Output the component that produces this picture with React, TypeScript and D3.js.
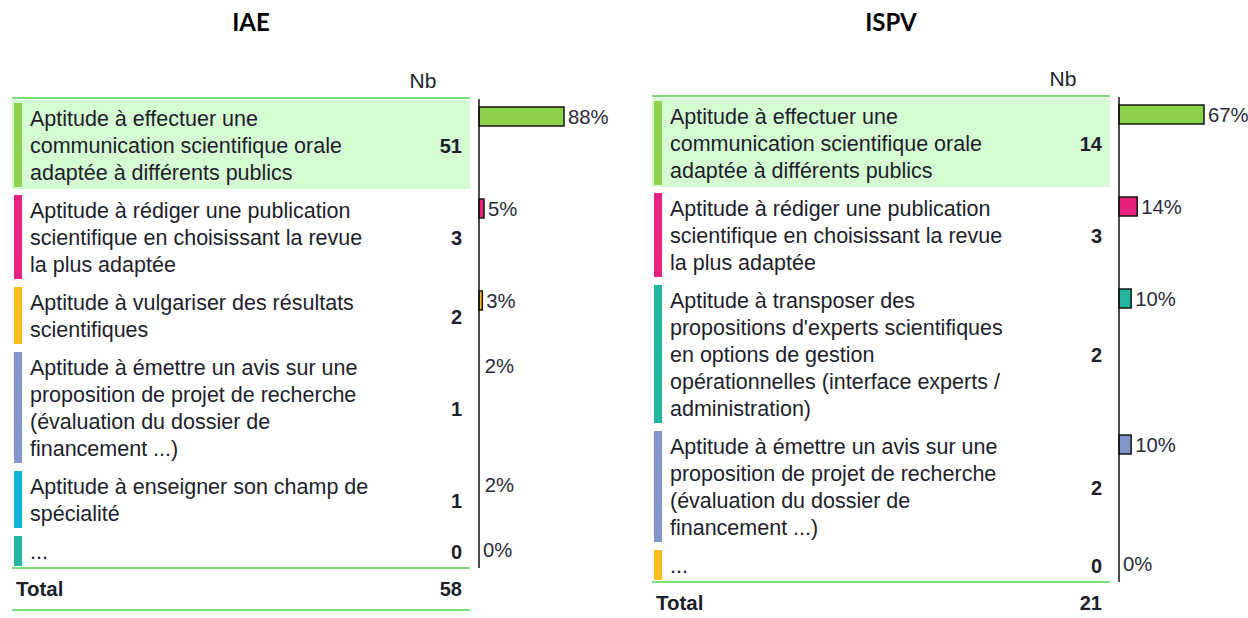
import React from "react";
import * as d3 from "d3";

const iaeLabels: string[][] = [
  ["Aptitude à effectuer une", "communication scientifique orale", "adaptée à différents publics"],
  ["Aptitude à rédiger une publication", "scientifique en choisissant la revue", "la plus adaptée"],
  ["Aptitude à vulgariser des résultats", "scientifiques"],
  ["Aptitude à émettre un avis sur une", "proposition de projet de recherche", "(évaluation du dossier de", "financement ...)"],
  ["Aptitude à enseigner son champ de", "spécialité"],
  ["..."],
];
const iaeCounts = [51, 3, 2, 1, 1, 0];
const iaeColors = ["#8cd24b", "#e8207e", "#fcbd1c", "#8396cc", "#13b4e0", "#22b8a0"];
const iaeTotal = 58;

const ispvLabels: string[][] = [
  ["Aptitude à effectuer une", "communication scientifique orale", "adaptée à différents publics"],
  ["Aptitude à rédiger une publication", "scientifique en choisissant la revue", "la plus adaptée"],
  ["Aptitude à transposer des", "propositions d'experts scientifiques", "en options de gestion", "opérationnelles (interface experts /", "administration)"],
  ["Aptitude à émettre un avis sur une", "proposition de projet de recherche", "(évaluation du dossier de", "financement ...)"],
  ["..."],
];
const ispvCounts = [14, 3, 2, 2, 0];
const ispvColors = ["#8cd24b", "#e8207e", "#22b8a0", "#8396cc", "#fcbd1c"];
const ispvTotal = 21;

const panelTitles = ["IAE", "ISPV"];
const headerLabel = "Nb";
const totalLabel = "Total";

const FONT = "'Liberation Sans', Arial, sans-serif";
const TEXT = "#1e1e2c";
const GREEN_LINE = "#78e07a";
const HILITE = "#d4fbd2";
const LINE_H = 27;

type PanelProps = {
  title: string;
  labels: string[][];
  counts: number[];
  colors: string[];
  total: number;
  dx: number;
  topLine: number;
};

function Panel({ title, labels, counts, colors, total, dx, topLine }: PanelProps) {
  const left = 12 + dx;
  const right = 470 + dx;
  const axisX = 479 + dx;
  const numX = 462 + dx;
  const textX = 30 + dx;
  const pcts = counts.map((c) => (c / total) * 100);
  const x = d3.scaleLinear().domain([0, d3.max(pcts) as number]).range([0, 85]);

  let y = topLine + 3;
  const rows = labels.map((lines, i) => {
    const pitch = LINE_H * lines.length + 11;
    const r = { top: y, pitch, lines, i };
    y += pitch;
    return r;
  });
  const last = rows[rows.length - 1];
  const endLine = last.top + 2 + LINE_H * last.lines.length + 3 + 2;

  return (
    <g>
      <text x={251 + dx} y={31} textAnchor="middle" fontFamily="Lato, 'Open Sans', sans-serif" fontWeight={700} fontSize={24} fill="#000">
        {title}
      </text>
      <text x={423 + dx} y={topLine - 10} textAnchor="middle" fontFamily={FONT} fontSize={21} fill={TEXT}>
        {headerLabel}
      </text>
      {rows.map((r) => {
        const barTop = r.top + 2;
        const barH = LINE_H * r.lines.length + 3;
        const mid = barTop + barH / 2;
        const w = x(pcts[r.i]);
        return (
          <g key={r.i}>
            {r.i === 0 && (
              <rect x={left} y={r.top - 1} width={right - left} height={r.pitch - 3} fill={HILITE} />
            )}
            <rect x={left + 2} y={barTop} width={8} height={barH} fill={colors[r.i]} />
            {r.lines.map((ln, k) => (
              <text key={k} x={textX} y={barTop + 23 + k * LINE_H} fontFamily={FONT} fontSize={21.5} fill={TEXT}>
                {ln}
              </text>
            ))}
            <text x={numX} y={mid + 8} textAnchor="end" fontFamily={FONT} fontWeight={700} fontSize={20} fill={TEXT}>
              {counts[r.i]}
            </text>
            {w >= 2 && (
              <rect x={axisX} y={r.top + 6} width={w} height={19} fill={colors[r.i]} stroke="#141414" strokeWidth={1.5} />
            )}
            <text x={axisX + Math.max(w, 0) + 4} y={r.top + 6 + 9.5 + 7.5} fontFamily={FONT} fontSize={20.3} fill="#2a2a3c">
              {d3.format(".0f")(pcts[r.i]) + "%"}
            </text>
          </g>
        );
      })}
      <line x1={axisX} x2={axisX} y1={topLine + 1} y2={endLine} stroke="#111" strokeWidth={1.5} />
      <line x1={left} x2={right} y1={topLine} y2={topLine} stroke={GREEN_LINE} strokeWidth={2} />
      <line x1={left} x2={right} y1={endLine} y2={endLine} stroke={GREEN_LINE} strokeWidth={2} />
      <text x={left + 4} y={endLine + 28} fontFamily={FONT} fontWeight={700} fontSize={20.5} fill={TEXT}>
        {totalLabel}
      </text>
      <text x={numX} y={endLine + 28} textAnchor="end" fontFamily={FONT} fontWeight={700} fontSize={20} fill={TEXT}>
        {total}
      </text>
      <line x1={left} x2={right} y1={endLine + 42} y2={endLine + 42} stroke={GREEN_LINE} strokeWidth={2} />
    </g>
  );
}

export default function App() {
  return (
    <svg width={1248} height={618} style={{ position: "absolute", left: 0, top: 0, background: "#fff" }}>
      <rect width={1248} height={618} fill="#fff" />
      <Panel title={panelTitles[0]} labels={iaeLabels} counts={iaeCounts} colors={iaeColors} total={iaeTotal} dx={0} topLine={98} />
      <Panel title={panelTitles[1]} labels={ispvLabels} counts={ispvCounts} colors={ispvColors} total={ispvTotal} dx={640} topLine={96} />
    </svg>
  );
}
